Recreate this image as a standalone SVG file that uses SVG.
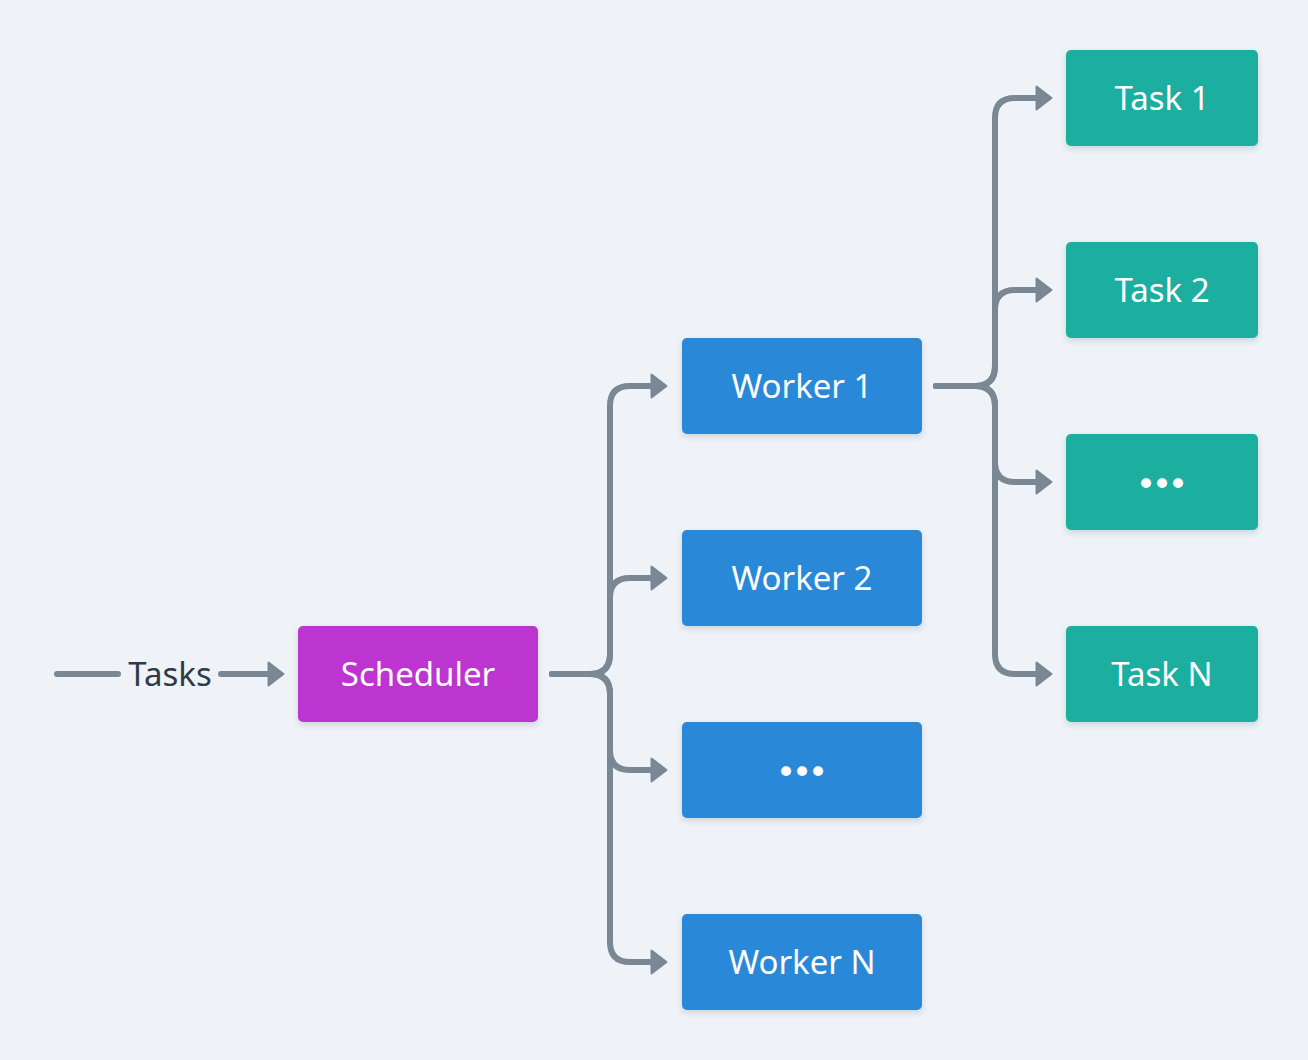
<svg xmlns="http://www.w3.org/2000/svg" width="1308" height="1060" viewBox="0 0 1308 1060">
<defs>
<filter id="sh" x="-10%" y="-10%" width="120%" height="130%">
<feDropShadow dx="0" dy="3" stdDeviation="3" flood-color="#1f2d3a" flood-opacity="0.15"/>
</filter>
<marker id="ah" viewBox="0 0 18 26" refX="10" refY="13" markerWidth="18" markerHeight="26" markerUnits="userSpaceOnUse" orient="auto">
<path d="M1.5,1.5 L16.5,13 L1.5,24.5 Z" fill="#7a8794" stroke="#7a8794" stroke-width="2" stroke-linejoin="round"/>
</marker>
</defs>
<style>
.bg{fill:#eff3f7}
.c{fill:none;stroke:#7a8794;stroke-width:6;stroke-linecap:round;stroke-linejoin:round}
.a{marker-end:url(#ah)}
.box{filter:url(#sh)}
.blue{fill:#2c88d9}
.teal{fill:#1aae9f}
.purple{fill:#bd34d1}
.t{font-family:"Noto Sans","DejaVu Sans",sans-serif;font-size:33px;fill:#ffffff;text-anchor:middle}
.d{font-family:"DejaVu Sans",sans-serif;font-size:34px;fill:#ffffff;text-anchor:middle;letter-spacing:-4px}
.lbl{font-family:"Noto Sans","DejaVu Sans",sans-serif;font-size:33px;fill:#2d3b48;text-anchor:middle}
</style>
<rect class="bg" x="0" y="0" width="1308" height="1060"/>
<g id="connectors">
<path class="c" d="M57,674 H118"/>
<path class="c a" d="M221,674 H277"/>
<path class="c a" d="M552,674 H590 Q610,674 610,654 V406 Q610,386 630,386 H660"/>
<path class="c a" d="M552,674 H590 Q610,674 610,654 V598 Q610,578 630,578 H660"/>
<path class="c a" d="M552,674 H590 Q610,674 610,694 V750 Q610,770 630,770 H660"/>
<path class="c a" d="M552,674 H590 Q610,674 610,694 V942 Q610,962 630,962 H660"/>
<path class="c a" d="M936,386 H975 Q995,386 995,366 V118 Q995,98 1015,98 H1045"/>
<path class="c a" d="M936,386 H975 Q995,386 995,366 V310 Q995,290 1015,290 H1045"/>
<path class="c a" d="M936,386 H975 Q995,386 995,406 V462 Q995,482 1015,482 H1045"/>
<path class="c a" d="M936,386 H975 Q995,386 995,406 V654 Q995,674 1015,674 H1045"/>
<text class="lbl" x="170" y="686">Tasks</text>
</g>
<g id="scheduler">
<rect class="box purple" x="298" y="626" width="240" height="96" rx="5"/>
<text class="t" x="418" y="686">Scheduler</text>
</g>
<g id="worker1">
<rect class="box blue" x="682" y="338" width="240" height="96" rx="5"/>
<text class="t" x="802" y="398">Worker 1</text>
</g>
<g id="worker2">
<rect class="box blue" x="682" y="530" width="240" height="96" rx="5"/>
<text class="t" x="802" y="590">Worker 2</text>
</g>
<g id="worker3">
<rect class="box blue" x="682" y="722" width="240" height="96" rx="5"/>
<text class="d" x="800" y="783.5">•••</text>
</g>
<g id="workerN">
<rect class="box blue" x="682" y="914" width="240" height="96" rx="5"/>
<text class="t" x="802" y="974">Worker N</text>
</g>
<g id="task1">
<rect class="box teal" x="1066" y="50" width="192" height="96" rx="5"/>
<text class="t" x="1162" y="110">Task 1</text>
</g>
<g id="task2">
<rect class="box teal" x="1066" y="242" width="192" height="96" rx="5"/>
<text class="t" x="1162" y="302">Task 2</text>
</g>
<g id="task3">
<rect class="box teal" x="1066" y="434" width="192" height="96" rx="5"/>
<text class="d" x="1160" y="495.5">•••</text>
</g>
<g id="taskN">
<rect class="box teal" x="1066" y="626" width="192" height="96" rx="5"/>
<text class="t" x="1162" y="686">Task N</text>
</g>
</svg>
